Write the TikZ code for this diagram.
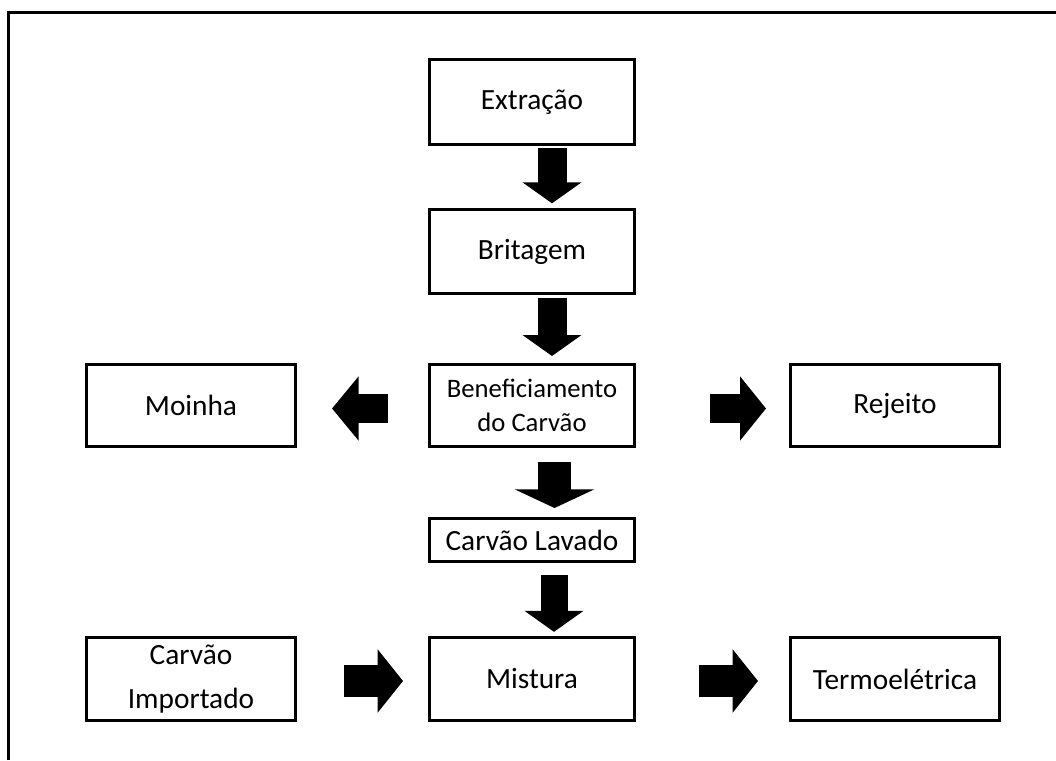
\documentclass[tikz,border=0pt]{standalone}
\usepackage{fontspec}
\setmainfont{Carlito}
\usetikzlibrary{arrows.meta}

\tikzset{
  caixa/.style={draw, line width=2.25pt, minimum width=153.75pt, minimum height=62.5pt,
    inner sep=0pt, align=center, font=\fontsize{22}{26}\selectfont},
  lateral/.style={caixa, minimum width=156.75pt},
  seta/.style={line width=21.75pt, -{Triangle[length=15.75pt, width=43.5pt]}},
}

\begin{document}
\begin{tikzpicture}[x=0.75pt, y=-0.75pt]
        \useasboundingbox (0,0) rectangle (1056,760);
        \draw[line width=2.25pt] (8.5,760) -- (8.5,12.5) -- (1056,12.5);

        \node[caixa, minimum height=63.75pt] (extracao) at (532,102) {Extração};
        \node[caixa] (britagem) at (532,251.5) {Britagem};
        \node[caixa, minimum height=61.5pt, font=\fontsize{20}{26}\selectfont] (benef) at (532,405.5) {Beneficiamento\\do Carvão};
        \node[lateral, minimum height=61.5pt] (moinha) at (191,405.5) {Moinha};
        \node[lateral, minimum height=61.5pt] (rejeito) at (895,405.5) {Rejeito};
        \node[caixa, minimum height=32.25pt] (lavado) at (532,540) {Carvão Lavado};
        \node[caixa] (mistura) at (532,679) {Mistura};
        \node[lateral, font=\fontsize{22}{33}\selectfont] (importado) at (191,679) {Carvão\\Importado};
        \node[lateral] (termo) at (895,679) {Termoelétrica};

        \draw[seta] ([shift={(20,2)}]extracao.south) -- ([shift={(20,-5)}]britagem.north);
        \draw[seta] ([shift={(20,3)}]britagem.south) -- ([shift={(20,-7)}]benef.north);
        \draw[seta, line width=24.75pt, -{Triangle[length=14pt, width=59.25pt]}]
            ([shift={(22.5,14)}]benef.south) -- ([shift={(22.5,-9)}]lavado.north);
        \draw[seta, line width=20.25pt] ([shift={(22,12)}]lavado.south) -- ([shift={(22,-4)}]mistura.north);

        \draw[seta, -{Triangle[length=20pt, width=47.25pt]}] ([shift={(-40,3)}]benef.west) -- ([shift={(35,3)}]moinha.east);
        \draw[seta, -{Triangle[length=19.5pt, width=47.25pt]}] ([shift={(74,3)}]benef.east) -- ([shift={(-23,3)}]rejeito.west);

        \draw[seta, line width=24pt, -{Triangle[length=19pt, width=46.5pt]}] ([shift={(47,2)}]importado.east) -- ([shift={(-25,2)}]mistura.west);
        \draw[seta, line width=24pt, -{Triangle[length=19pt, width=46.5pt]}] ([shift={(63,2)}]mistura.east) -- ([shift={(-31,2)}]termo.west);
    \end{tikzpicture}
\end{document}
